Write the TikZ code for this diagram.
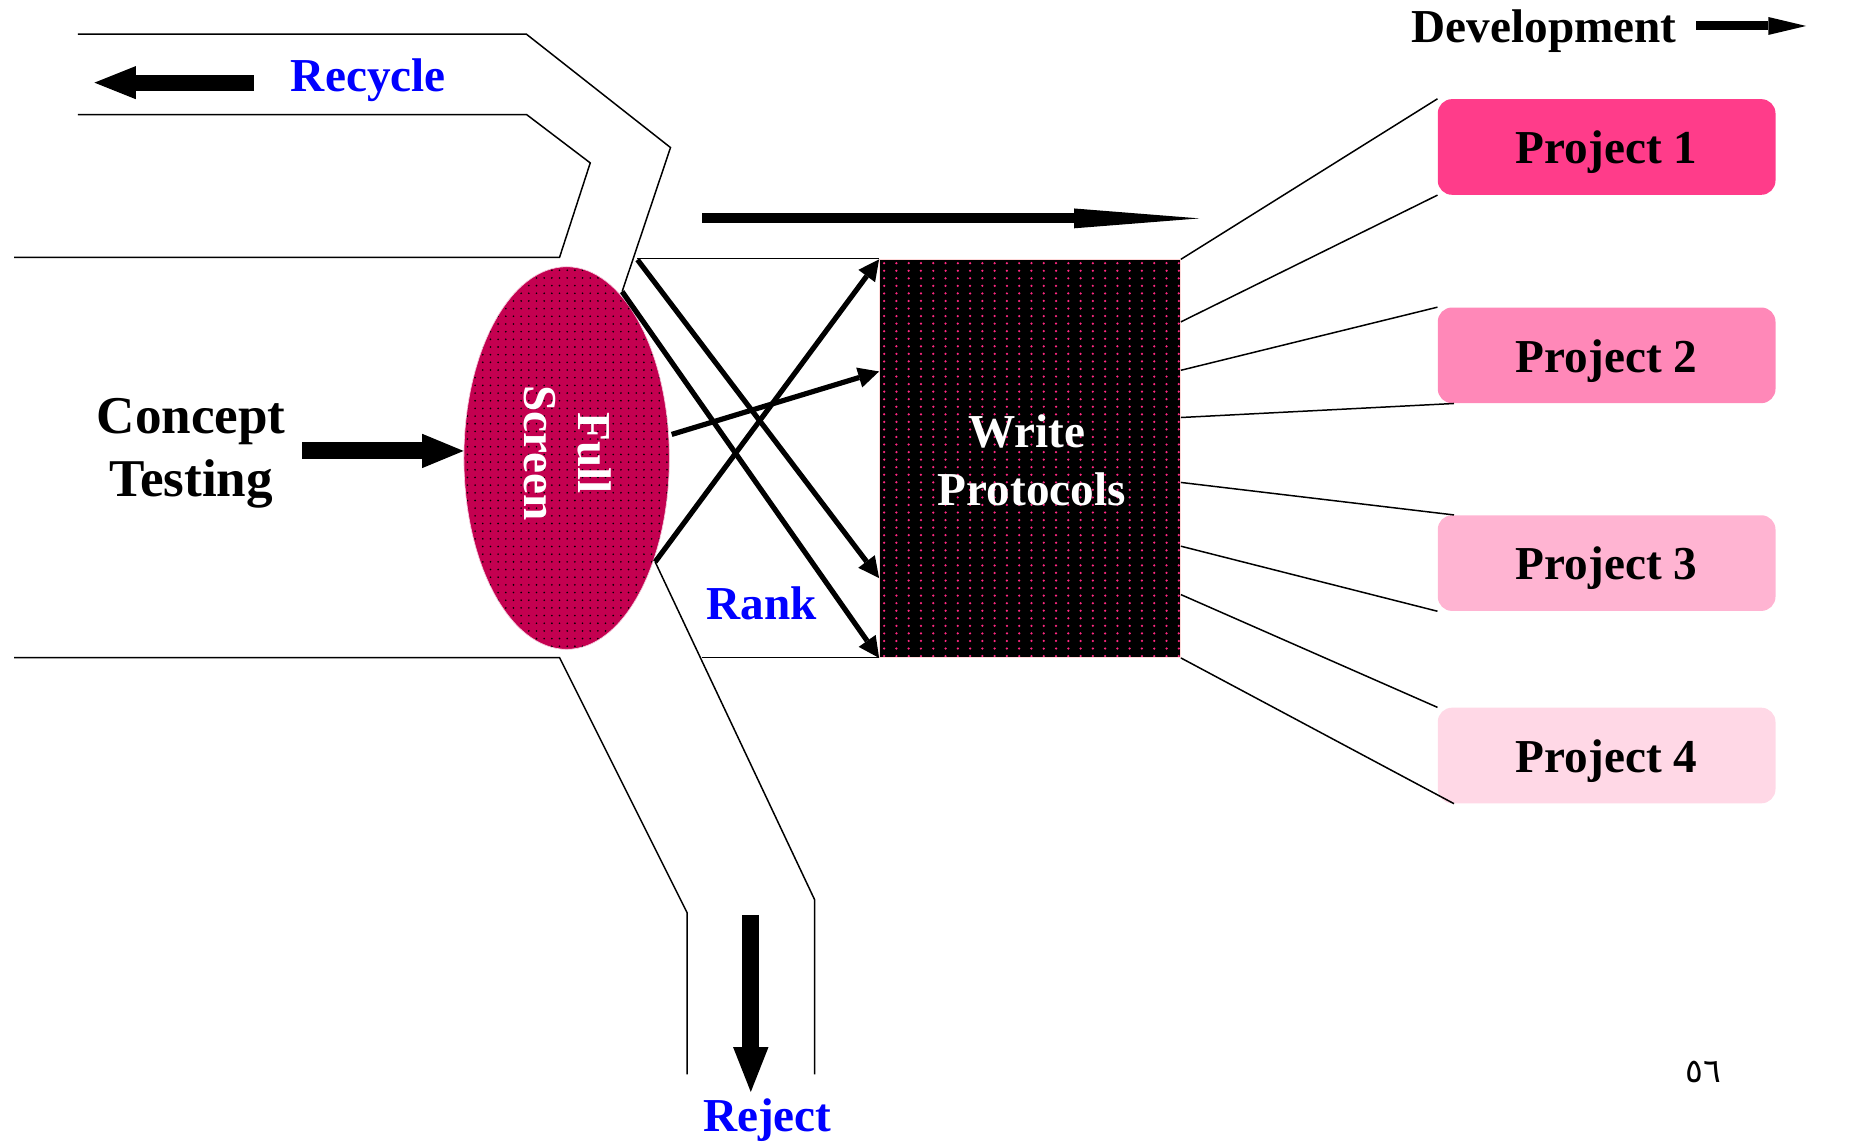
\documentclass[tikz,border=0pt]{standalone}
\usepackage{fontspec}
\usepackage{graphicx}
\setmainfont{Liberation Serif}
\newfontfamily\arabicfont[Script=Arabic]{DejaVu Sans}
\usetikzlibrary{arrows.meta,shapes.geometric,calc}

\definecolor{screenred}{RGB}{196,0,80}
\definecolor{dotpink}{RGB}{255,40,130}
\definecolor{proja}{RGB}{255,60,138}
\definecolor{projb}{RGB}{255,136,184}
\definecolor{projc}{RGB}{255,180,210}
\definecolor{projd}{RGB}{255,216,230}
\definecolor{labelblue}{RGB}{0,0,255}

\tikzset{
  big/.style={font=\bfseries\fontsize{28.45}{35}\selectfont, inner sep=0pt},
  bluelabel/.style={big, text=labelblue},
  wall/.style={line width=0.9pt, line join=miter},
  thin link/.style={line width=0.9pt},
  feed/.style={line width=0.11cm, -{Triangle[length=0.44cm,width=0.44cm,line width=0pt]}},
  bar/.style n args={3}{line width=#1, -{Triangle[length=#2,width=#3,line width=0pt]}},
  proj/.style={big, minimum width=7.15cm, minimum height=2.025cm,
    rounded corners=0.3cm, inner sep=0pt, text height=20.2pt, text depth=0pt}
}

\begin{document}
\begin{tikzpicture}[x=0.025cm, y=-0.025cm]
\useasboundingbox (0,0) rectangle (1568,967);

% channel walls
\draw[wall] (66,29) -- (446,29) -- (568,125) -- (527,247);
\draw[wall] (66,97) -- (446,97) -- (500,138) -- (474,218) -- (12,218);
\draw[wall] (540,219) -- (745,219);
\draw[wall] (12,557) -- (474,557) -- (582,773) -- (582,910);
\draw[wall] (595,557) -- (745,557);
\draw[wall] (555,476) -- (690,762) -- (690,910);

% full screen stage
\node[ellipse, fill=screenred, draw=screenred!20, line width=0.4pt,
      minimum width=4.35cm, minimum height=8.1cm, inner sep=0pt,
      path picture={
        \foreach \i in {0,...,27}
          \foreach \j in {0,...,50}
            \fill[black] ($(path picture bounding box.north west)+(3+\i*6.5,3+\j*6.5)$) circle[radius=0.55pt];
      }] (fs) at (480,388) {};
\node[big, text=white] (fstext) at (477,384)
  {\rotatebox{-90}{\begin{tabular}{@{}c@{}}Full\\[-2pt]Screen\end{tabular}}};

% write protocols stage
\node[rectangle, fill=black, draw=pink!60, line width=0.4pt,
      minimum width=6.375cm, minimum height=8.425cm, inner sep=0pt,
      path picture={
        \foreach \j in {0,...,52}
          \foreach \i in {0,...,24}
            \fill[dotpink] ($(path picture bounding box.north west)+(4+\i*10.4,3+\j*6.4)$) circle[radius=0.75pt];
      }] (wp) at (872.5,388.5) {};
\node[big, text=white, align=center] (wptext) at (870,390) {Write\\\hspace*{0.2cm}Protocols};

% projects
\node[proj, fill=proja] (p1) at (1361,124.5) {Project 1};
\node[proj, fill=projb] (p2) at (1361,301) {Project 2};
\node[proj, fill=projc] (p3) at (1361,477) {Project 3};
\node[proj, fill=projd] (p4) at (1361,640) {Project 4};

% labels
\node[font=\bfseries\fontsize{32}{38}\selectfont, inner sep=0pt, align=center] (ct) at (162,384) {Concept\\Testing};
\node[bluelabel] (recycle) at (312,68) {Recycle};
\node[bluelabel] (rank) at (645,511) {Rank};
\node[bluelabel] (reject) at (650,949) {Reject};
\node[big] (dev) at (1308,26) {Development};
\node[font=\arabicfont\fontsize{20}{24}\selectfont, inner sep=0pt] (pg) at (1443,908) {٥٦};

% block arrows
\coordinate (ctout) at (256,382);
\draw[bar={0.36cm}{0.875cm}{0.725cm}] (ctout) -- (fs.west |- ctout);
\coordinate (rcA) at (215,70);
\coordinate (rcB) at (80,70);
\draw[bar={0.34cm}{0.875cm}{0.7cm}] (rcA) -- (rcB);
\coordinate (rjA) at (636,775);
\coordinate (rjB) at (636,925);
\draw[bar={0.36cm}{0.95cm}{0.75cm}] (rjA) -- (rjB);
\coordinate (flA) at (595,185);
\coordinate (flB) at (1016,185);
\draw[bar={0.21cm}{2.65cm}{0.42cm}] (flA) -- (flB);
\coordinate (dvA) at (1437,22);
\coordinate (dvB) at (1530,22);
\draw[bar={0.19cm}{0.8cm}{0.38cm}] (dvA) -- (dvB);

% ranking feeds from screen to protocols
\coordinate (fa) at (540,220);
\coordinate (fb) at (527,247);
\coordinate (fc) at (569,368);
\coordinate (fd) at (555,476);
\draw[feed] (fa) -- ($(wp.north west)+(0,270)$);
\draw[feed] (fb) -- (wp.south west);
\draw[feed] (fc) -- ($(wp.north west)+(0,95)$);
\draw[feed] (fd) -- (wp.north west);

% links to projects
\draw[thin link] (wp.north east) -- (p1.north west);
\draw[thin link] ($(wp.north east)+(0,53)$) -- (p1.south west);
\draw[thin link] ($(wp.north east)+(0,94)$) -- (p2.north west);
\draw[thin link] ($(wp.north east)+(0,134)$) -- ($(p2.south west)+(14,0)$);
\draw[thin link] ($(wp.north east)+(0,189)$) -- ($(p3.north west)+(14,0)$);
\draw[thin link] ($(wp.north east)+(0,243)$) -- (p3.south west);
\draw[thin link] ($(wp.north east)+(0,284)$) -- (p4.north west);
\draw[thin link] (wp.south east) -- ($(p4.south west)+(14,0)$);
\end{tikzpicture}
\end{document}
